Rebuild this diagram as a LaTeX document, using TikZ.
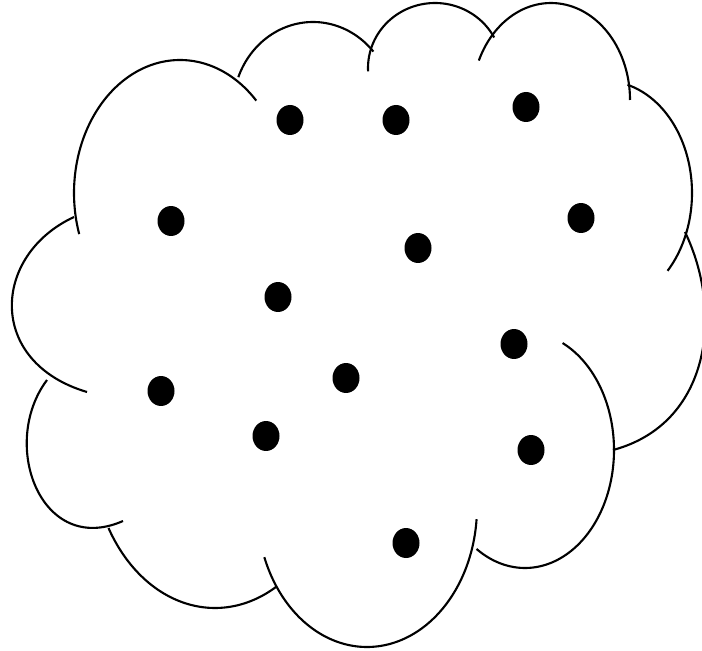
\documentclass[tikz,border=0pt]{standalone}
\usepackage{tikz}
\usetikzlibrary{shapes.geometric}

\begin{document}
\begin{tikzpicture}[x=0.02cm,y=-0.02cm,
    lobe/.style={line width=1.2pt,samples=60},
    dot/.style={ellipse,fill=black,inner sep=0pt,minimum width=0.54cm,minimum height=0.6cm}]
  \useasboundingbox (0,0) rectangle (702,651);
  % cloud outline, one arc per lobe (clockwise from the upper left)
  \draw[lobe] plot[smooth,domain=162:316] ({180+106*cos(\x)},{193+133*sin(\x)});
  \draw[lobe] plot[smooth,domain=201:319] ({313+80*cos(\x)},{108+86*sin(\x)});
  \draw[lobe] plot[smooth,domain=177:332] ({435+67*cos(\x)},{68+65*sin(\x)});
  \draw[lobe] plot[smooth,domain=204:360] ({551+79*cos(\x)},{100+97*sin(\x)});
  \draw[lobe] plot[smooth,domain=-75:44] ({605+87*cos(\x)},{193+112*sin(\x)});
  \draw[lobe] (685,232) .. controls (724,313) and (710,424) .. (613,450);
  \draw[lobe] plot[smooth,domain=-65:123] ({525+89*cos(\x)},{450+118*sin(\x)});
  \draw[lobe] plot[smooth,domain=5:159] ({367+110*cos(\x)},{507+140*sin(\x)});
  \draw[lobe] plot[smooth,domain=60:150] ({215+123*cos(\x)},{448+160*sin(\x)});
  \draw[lobe] (123,521) .. controls (41,557) and (-1,444) .. (47,380);
  \draw[lobe] (87,392) .. controls (-14,362) and (-8,255) .. (74,217);
  % points inside the cloud
  \foreach \px/\py [count=\i] in {290/120,396/120,526/107,171/221,581/218,418/248,278/297,
      514/344,346/378,161/391,266/436,531/450,406/543}
    \node[dot] (d\i) at (\px,\py) {};
\end{tikzpicture}
\end{document}
